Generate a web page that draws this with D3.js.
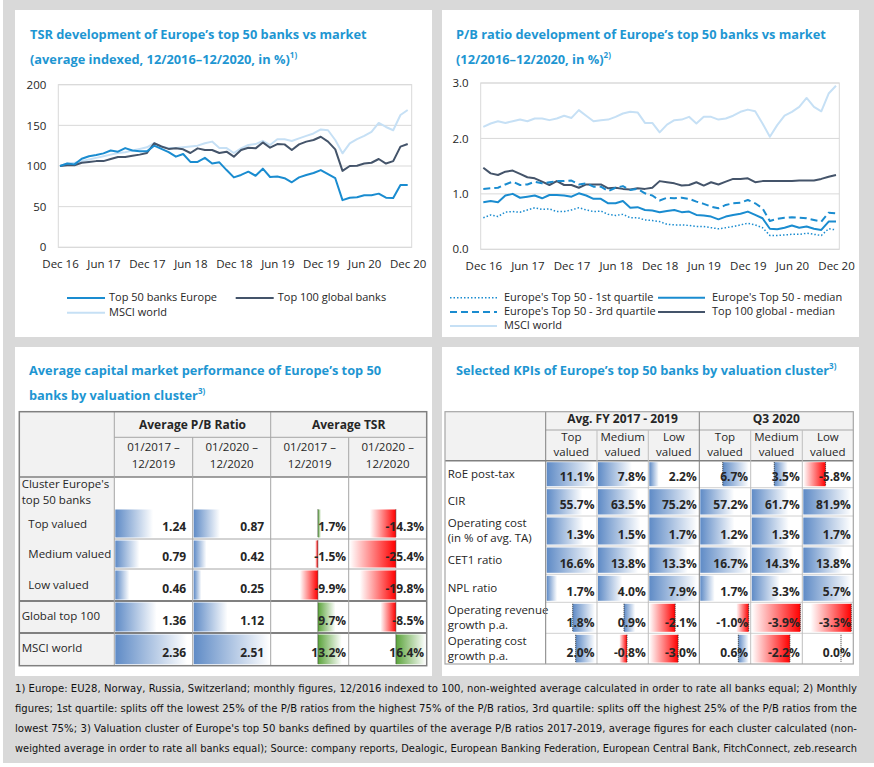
<!DOCTYPE html>
<html>
<head>
<meta charset="utf-8">
<script src="https://cdn.jsdelivr.net/npm/d3@7"></script>
<style>
body { margin: 0; background: #fff; }
svg { display: block; }
text { font-family: "Open Sans", sans-serif; fill: #262626; }
</style>
</head>
<body>
<svg id="chart" width="874" height="767"></svg>
<script>
// monthly series, Dec 2016 .. Dec 2020 (49 points)
var tickLabels = ["Dec 16","Jun 17","Dec 17","Jun 18","Dec 18","Jun 19","Dec 19","Jun 20","Dec 20"];
var tickMonths = [0, 6, 12, 18, 24, 30, 36, 42, 48];

var tsrTop50 = [100,103,102,109,112,113.5,115.5,119,117.6,122,119,118,118,125,121,117,111.5,114.8,105,105,110,103,104.5,95,86,
  89,93,88,96.7,86.5,87,85,80,86,89,91.4,95,90,85,58,61,61.5,64,64,66,61,60.7,76.6,76.6];
var tsrGlobal = [100,101,101,104,105,106,106,108.6,111,111,112.5,114,116,128,124,121,121.7,120.5,116,121.7,119.7,119.7,116,117.6,111.5,
  119.7,122.5,121.7,129,122.5,127,126.6,119.7,126.6,130,132,136,130,120.5,94,100,100.4,103,104,108.6,103,106,123.8,127];
var tsrMsci = [100,103,104,106,108,110,112,114,116,117,119,121,123,128,124,122,122,123,124,125,128,130,122,122,116,
  121.7,125.8,127,131,125.8,132.8,132.8,130.7,134,137,140,145,144,132,115.6,127.9,133,137,142,153,148,144,162.7,168.9];

var pbQ1 = [0.57,0.62,0.59,0.67,0.68,0.67,0.71,0.75,0.72,0.73,0.68,0.68,0.71,0.75,0.71,0.68,0.69,0.63,0.61,0.63,0.57,0.57,0.53,0.52,0.50,
  0.45,0.44,0.44,0.43,0.41,0.41,0.39,0.37,0.39,0.41,0.44,0.47,0.44,0.39,0.25,0.25,0.26,0.27,0.27,0.29,0.27,0.25,0.37,0.35];
var pbMedian = [0.85,0.87,0.85,0.97,1.00,0.93,0.95,0.97,0.92,0.98,0.98,0.97,0.95,1.01,0.97,0.91,0.91,0.83,0.83,0.87,0.75,0.76,0.71,0.70,0.67,
  0.69,0.71,0.67,0.68,0.62,0.61,0.59,0.54,0.59,0.62,0.64,0.68,0.62,0.56,0.37,0.36,0.39,0.43,0.39,0.41,0.37,0.35,0.50,0.50];
var pbQ3 = [1.09,1.10,1.11,1.17,1.22,1.16,1.17,1.22,1.19,1.21,1.23,1.23,1.24,1.17,1.19,1.13,1.13,1.05,1.11,1.14,1.07,1.09,1.01,0.97,0.88,
  0.93,0.92,0.93,0.91,0.86,0.82,0.77,0.74,0.80,0.83,0.84,0.89,0.83,0.74,0.51,0.55,0.57,0.58,0.57,0.56,0.53,0.50,0.66,0.65];
var pbGlobal = [1.47,1.37,1.34,1.40,1.42,1.36,1.30,1.28,1.22,1.16,1.23,1.16,1.16,1.11,1.17,1.17,1.17,1.10,1.11,1.09,1.08,1.10,1.09,1.11,1.23,
  1.21,1.19,1.15,1.16,1.21,1.15,1.21,1.17,1.22,1.27,1.27,1.28,1.21,1.23,1.23,1.23,1.23,1.23,1.24,1.24,1.24,1.27,1.31,1.34];
var pbMsci = [2.21,2.27,2.31,2.28,2.31,2.34,2.31,2.36,2.36,2.33,2.36,2.41,2.37,2.51,2.41,2.31,2.33,2.34,2.39,2.45,2.48,2.47,2.28,2.28,2.11,
  2.25,2.33,2.34,2.39,2.27,2.39,2.39,2.34,2.36,2.41,2.48,2.52,2.49,2.27,2.03,2.24,2.41,2.48,2.57,2.73,2.57,2.49,2.81,2.95];

// capital market performance table
var clusterLabels = ["Top valued", "Medium valued", "Low valued", "Global top 100", "MSCI world"];
var pbAvg1719 = [1.24, 0.79, 0.46, 1.36, 2.36];
var pbAvg20 = [0.87, 0.42, 0.25, 1.12, 2.51];
var tsrAvg1719 = [1.7, -1.5, -9.9, 9.7, 13.2];
var tsrAvg20 = [-14.3, -25.4, -19.8, -8.5, 16.4];

// KPI table
var kpiLabels = [["RoE post-tax"], ["CIR"], ["Operating cost", "(in % of avg. TA)"], ["CET1 ratio"], ["NPL ratio"],
  ["Operating revenue", "growth p.a."], ["Operating cost", "growth p.a."]];
var kpiPeriods = ["Avg. FY 2017 - 2019", "Q3 2020"];
var kpiClusters = [["Top", "valued"], ["Medium", "valued"], ["Low", "valued"]];
var kpiAvg = [[11.1, 7.8, 2.2], [55.7, 63.5, 75.2], [1.3, 1.5, 1.7], [16.6, 13.8, 13.3], [1.7, 4.0, 7.9], [1.8, 0.9, -2.1], [2.0, -0.8, -3.0]];
var kpiQ3 = [[6.7, 3.5, -5.8], [57.2, 61.7, 81.9], [1.2, 1.3, 1.7], [16.7, 14.3, 13.8], [1.7, 3.3, 5.7], [-1.0, -3.9, -3.3], [0.6, -2.2, 0.0]];

var footnotes = [
  "1) Europe: EU28, Norway, Russia, Switzerland; monthly figures, 12/2016 indexed to 100, non-weighted average calculated in order to rate all banks equal; 2) Monthly",
  "figures; 1st quartile: splits off the lowest 25% of the P/B ratios from the highest 75% of the P/B ratios, 3rd quartile: splits off the highest 25% of the P/B ratios from the",
  "lowest 75%; 3) Valuation cluster of Europe's top 50 banks defined by quartiles of the average P/B ratios 2017-2019, average figures for each cluster calculated (non-",
  "weighted average in order to rate all banks equal); Source: company reports, Dealogic, European Banking Federation, European Central Bank, FitchConnect, zeb.research"
];

var TITLE = "#1e96d2", MID = "#1a8cd0", DARK = "#44546a", LIGHT = "#c6e0f5";

// hyphen minus like the source, not d3's unicode minus
var f1 = function(v){ return d3.format(".1f")(v).replace("−", "-"); };
var f2 = function(v){ return d3.format(".2f")(v).replace("−", "-"); };
var pct = function(v){ return f1(v) + "%"; };

var svg = d3.select("#chart");

// background + panels
svg.append("rect").attr("x", 3).attr("width", 871).attr("height", 763).attr("fill", "#d9d9d9");
[[15, 10, 417, 327], [442, 10, 417, 327], [15, 347, 417, 329], [442, 347, 417, 329]].forEach(function(p){
  svg.append("rect").attr("x", p[0]).attr("y", p[1]).attr("width", p[2]).attr("height", p[3]).attr("fill", "#fff");
});

// gradients for data bars
var defs = svg.append("defs");
function grad(id, color, reverse){
  var lg = defs.append("linearGradient").attr("id", id)
    .attr("x1", reverse ? 1 : 0).attr("x2", reverse ? 0 : 1).attr("y1", 0).attr("y2", 0);
  lg.append("stop").attr("offset", "0%").attr("stop-color", color);
  lg.append("stop").attr("offset", "100%").attr("stop-color", "#fff");
}
grad("gBlue", "#5f8bc6", false);
grad("gGreen", "#5aa33a", false);
grad("gRed", "#ff0000", true);

function title(x, y, str, sup){
  var t = svg.append("text").attr("x", x).attr("y", y).attr("dominant-baseline", "middle")
    .attr("font-size", 12.8).attr("font-weight", 700).style("fill", TITLE).text(str);
  if (sup) t.append("tspan").attr("font-size", 8).attr("dy", -5).text(sup);
}

title(30, 36, "TSR development of Europe’s top 50 banks vs market");
title(30, 61, "(average indexed, 12/2016–12/2020, in %)", "1)");
title(456, 36, "P/B ratio development of Europe’s top 50 banks vs market");
title(456, 61, "(12/2016–12/2020, in %)", "2)");
title(29, 372, "Average capital market performance of Europe’s top 50");
title(29, 397, "banks by valuation cluster", "3)");
title(456, 372, "Selected KPIs of Europe’s top 50 banks by valuation cluster", "3)");

// ---------- line charts ----------
function lineChart(o){
  var g = svg.append("g");
  var x = d3.scaleLinear().domain([0, 48]).range(o.xr);
  var y = d3.scaleLinear().domain(o.yd).range(o.yr);

  g.append("g").selectAll("line").data(o.ticks).enter().append("line")
    .attr("x1", o.frame[0]).attr("x2", o.frame[1])
    .attr("y1", function(d){ return y(d); }).attr("y2", function(d){ return y(d); })
    .attr("stroke", "#d9d9d9");
  g.append("rect").attr("x", o.frame[0]).attr("y", y(o.yd[1]))
    .attr("width", o.frame[1] - o.frame[0]).attr("height", y(o.yd[0]) - y(o.yd[1]))
    .attr("fill", "none").attr("stroke", "#d9d9d9");

  var yAxis = g.append("g").attr("transform", "translate(" + o.frame[0] + ",0)")
    .call(d3.axisLeft(y).tickValues(o.ticks).tickFormat(o.fmt).tickSize(0).tickPadding(o.pad));
  yAxis.select(".domain").remove();
  yAxis.attr("font-family", null).attr("font-size", 11.5);

  var xAxis = g.append("g").attr("transform", "translate(0," + o.yr[0] + ")")
    .call(d3.axisBottom(x).tickValues(tickMonths).tickFormat(function(d, i){ return tickLabels[i]; })
      .tickSize(0).tickPadding(o.xpad));
  xAxis.select(".domain").remove();
  xAxis.attr("font-family", null).attr("font-size", 11.5);

  var line = d3.line().x(function(d, i){ return x(i); }).y(function(d){ return y(d); });
  o.series.forEach(function(s){
    g.append("path").datum(s.values).attr("d", line).attr("fill", "none")
      .attr("stroke", s.color).attr("stroke-width", s.width || 2)
      .attr("stroke-dasharray", s.dash || null).attr("stroke-linejoin", "round");
  });

  // legend
  o.series.forEach(function(s){
    var lg = g.append("g").attr("transform", "translate(" + s.lx + "," + s.ly + ")");
    lg.append("line").attr("x1", 0).attr("x2", o.lw).attr("stroke", s.color)
      .attr("stroke-width", s.width || 2).attr("stroke-dasharray", s.dash || null);
    lg.append("text").attr("x", o.lw + o.lgap).attr("dominant-baseline", "middle")
      .attr("font-size", 11).text(s.name);
  });
}

lineChart({
  xr: [60, 407.7], yd: [0, 200], yr: [247.3, 84.7], frame: [58.3, 411.7],
  ticks: [0, 50, 100, 150, 200], fmt: d3.format("d"), pad: 12, xpad: 13,
  lw: 38, lgap: 4,
  series: [
    {name: "MSCI world", values: tsrMsci, color: LIGHT, lx: 67, ly: 312.7},
    {name: "Top 100 global banks", values: tsrGlobal, color: DARK, lx: 235.7, ly: 298},
    {name: "Top 50 banks Europe", values: tsrTop50, color: MID, lx: 67, ly: 298}
  ]
});

lineChart({
  xr: [483.3, 836], yd: [0, 3], yr: [249.3, 83], frame: [480.7, 839.3],
  ticks: [0, 1, 2, 3], fmt: d3.format(".1f"), pad: 12, xpad: 13,
  lw: 47, lgap: 7,
  series: [
    {name: "MSCI world", values: pbMsci, color: LIGHT, lx: 450, ly: 326},
    {name: "Top 100 global - median", values: pbGlobal, color: DARK, lx: 658, ly: 312},
    {name: "Europe's Top 50 - 3rd quartile", values: pbQ3, color: MID, dash: "7,4", lx: 450, ly: 312},
    {name: "Europe's Top 50 - median", values: pbMedian, color: MID, lx: 658, ly: 297.7},
    {name: "Europe's Top 50 - 1st quartile", values: pbQ1, color: MID, width: 1.5, dash: "1.5,2", lx: 450, ly: 297.7}
  ]
});

// ---------- table helpers ----------
function txt(x, y, str, anchor, weight, size){
  return svg.append("text").attr("x", x).attr("y", y).attr("dominant-baseline", "middle")
    .attr("text-anchor", anchor || "start").attr("font-weight", weight || 400)
    .attr("font-size", size || 11.5).text(str);
}
function hline(x1, x2, y, c, w){
  svg.append("line").attr("x1", x1).attr("x2", x2).attr("y1", y).attr("y2", y)
    .attr("stroke", c || "#a6a6a6").attr("stroke-width", w || 1);
}
function vline(x, y1, y2, c, w){
  svg.append("line").attr("x1", x).attr("x2", x).attr("y1", y1).attr("y2", y2)
    .attr("stroke", c || "#a6a6a6").attr("stroke-width", w || 1);
}
// excel-like data bar inside a cell; scale maps value -> x
function dataBar(scale, v, top, bottom, pos){
  var x0 = scale(0), x1 = scale(v);
  if (v !== 0) {
    svg.append("rect").attr("x", Math.min(x0, x1)).attr("y", top + 1.5)
      .attr("width", Math.abs(x1 - x0)).attr("height", bottom - top - 3)
      .attr("fill", v > 0 ? pos : "url(#gRed)");
  }
  if (scale.domain()[0] < 0) {
    svg.append("line").attr("x1", x0).attr("x2", x0).attr("y1", top + 1.5).attr("y2", bottom - 1.5)
      .attr("stroke", "#333").attr("stroke-width", 1).attr("stroke-dasharray", "1,1");
  }
}

// ---------- capital market performance table ----------
var c3 = [19.3, 114.3, 192.7, 270.7, 348.7, 426.7];
var r3 = [411.7, 437.3, 477, 508, 539, 569, 601, 633, 665.7];

svg.append("rect").attr("x", c3[0]).attr("y", r3[0]).attr("width", c3[5] - c3[0]).attr("height", r3[2] - r3[0]).attr("fill", "#f2f2f2");
svg.append("rect").attr("x", c3[0]).attr("y", r3[2]).attr("width", c3[1] - c3[0]).attr("height", r3[8] - r3[2]).attr("fill", "#f2f2f2");

var pbScale = d3.scaleLinear().domain([0, d3.max(pbAvg1719.concat(pbAvg20))]);
var tsrAll = tsrAvg1719.concat(tsrAvg20);
var tsrScale = d3.scaleLinear().domain([d3.min(tsrAll), d3.max(tsrAll)]);

var cols3 = [
  {vals: pbAvg1719, scale: pbScale, fmt: f2, pad: 6.5, fill: "url(#gBlue)"},
  {vals: pbAvg20, scale: pbScale, fmt: f2, pad: 6.5, fill: "url(#gBlue)"},
  {vals: tsrAvg1719, scale: tsrScale, fmt: pct, pad: 2.5, fill: "url(#gGreen)"},
  {vals: tsrAvg20, scale: tsrScale, fmt: pct, pad: 2.5, fill: "url(#gGreen)"}
];
cols3.forEach(function(col, ci){
  var left = c3[ci + 1], right = c3[ci + 2];
  var sc = col.scale.copy().range([left + 1, right - 1]);
  col.vals.forEach(function(v, ri){
    var top = r3[ri + 3], bottom = r3[ri + 4];
    dataBar(sc, v, top, bottom, col.fill);
    txt(right - col.pad, bottom - 11.5, col.fmt(v), "end", 700, 12);
  });
});

txt((c3[1] + c3[3]) / 2, 426, "Average P/B Ratio", "middle", 700, 12);
txt((c3[3] + c3[5]) / 2, 426, "Average TSR", "middle", 700, 12);
[["01/2017 –", "12/2019"], ["01/2020 –", "12/2020"], ["01/2017 –", "12/2019"], ["01/2020 –", "12/2020"]].forEach(function(d, i){
  var cx = (c3[i + 1] + c3[i + 2]) / 2;
  txt(cx, 448.3, d[0], "middle");
  txt(cx, 465, d[1], "middle");
});
txt(21.7, 485, "Cluster Europe's");
txt(21.7, 501, "top 50 banks");
clusterLabels.forEach(function(l, i){
  var indent = i < 3 ? 28.3 : 21.7;
  txt(indent, (r3[i + 3] + r3[i + 4]) / 2 + (i < 3 ? 1 : 0), l);
});

// grid
hline(c3[1], c3[5], r3[1]);
hline(c3[0], c3[5], r3[2], "#808080", 1.5);
hline(c3[1], c3[5], r3[4]);
hline(c3[1], c3[5], r3[5]);
hline(c3[0], c3[5], r3[6], "#808080", 2);
hline(c3[0], c3[5], r3[7], "#808080", 2);
vline(c3[1], r3[0], r3[8]);
vline(c3[3], r3[0], r3[8]);
vline(c3[2], r3[1], r3[8]);
vline(c3[4], r3[1], r3[8]);
svg.append("rect").attr("x", c3[0]).attr("y", r3[0]).attr("width", c3[5] - c3[0]).attr("height", r3[8] - r3[0])
  .attr("fill", "none").attr("stroke", "#808080").attr("stroke-width", 1.5);

// ---------- KPI table ----------
var c4 = [445, 545.7, 597, 648.3, 699.3, 750.7, 802.3, 853.3];
var r4 = [411.7, 430, 460.7, 487.7, 516, 546, 574.3, 602.3, 633.3, 664];

svg.append("rect").attr("x", c4[0]).attr("y", r4[0]).attr("width", c4[7] - c4[0]).attr("height", r4[2] - r4[0]).attr("fill", "#f2f2f2");

[kpiAvg, kpiQ3].forEach(function(block, bi){
  block.forEach(function(row, ri){
    var top = r4[ri + 2], bottom = r4[ri + 3];
    var dom = [Math.min(0, d3.min(row)), Math.max(0, d3.max(row))];
    row.forEach(function(v, ci){
      var left = c4[1 + bi * 3 + ci], right = c4[2 + bi * 3 + ci];
      var sc = d3.scaleLinear().domain(dom).range([left + 1, right - 2]);
      dataBar(sc, v, top, bottom, "url(#gBlue)");
      txt(right - 2.5, bottom - 10, pct(v), "end", 700, 12);
    });
  });
});

kpiPeriods.forEach(function(p, bi){
  txt((c4[1 + bi * 3] + c4[4 + bi * 3]) / 2, 420, p, "middle", 700, 12);
  kpiClusters.forEach(function(k, ci){
    var cx = (c4[1 + bi * 3 + ci] + c4[2 + bi * 3 + ci]) / 2;
    txt(cx, 438.3, k[0], "middle");
    txt(cx, 453.3, k[1], "middle");
  });
});
kpiLabels.forEach(function(l, ri){
  var top = r4[ri + 2];
  if (l.length === 1) txt(447.7, top + 14.5, l[0]);
  else { txt(447.7, top + 8.3, l[0]); txt(447.7, top + 23.3, l[1]); }
});

hline(c4[1], c4[7], r4[1]);
hline(c4[0], c4[7], r4[2], "#808080", 1.5);
for (var ri = 3; ri < 9; ri++) hline(c4[1], c4[7], r4[ri], "#d0d0d0");
vline(c4[1], r4[0], r4[9], "#808080");
vline(c4[4], r4[0], r4[9], "#808080");
[2, 3, 5, 6].forEach(function(ci){ vline(c4[ci], r4[1], r4[9], "#bfbfbf"); });
svg.append("rect").attr("x", c4[0]).attr("y", r4[0]).attr("width", c4[7] - c4[0]).attr("height", r4[9] - r4[0])
  .attr("fill", "none").attr("stroke", "#a6a6a6").attr("stroke-width", 1.2);

// ---------- footnotes (justified to the full width) ----------
var FOOT_W = 842;
footnotes.forEach(function(f, i){
  var t = svg.append("text").attr("x", 15).attr("y", 689 + i * 20).attr("dominant-baseline", "middle")
    .attr("font-size", 11.5)
    .style("font-family", "'Liberation Sans Narrow', 'DejaVu Sans Condensed', sans-serif").style("fill", "#111").text(f);
  // shrink long lines so they never run past the panel, then stretch to the justified width
  var w = t.node().getComputedTextLength();
  if (w > FOOT_W) t.attr("font-size", 11.5 * FOOT_W / w - 0.05);
  t.attr("textLength", FOOT_W).attr("lengthAdjust", "spacing");
});
</script>
</body>
</html>
